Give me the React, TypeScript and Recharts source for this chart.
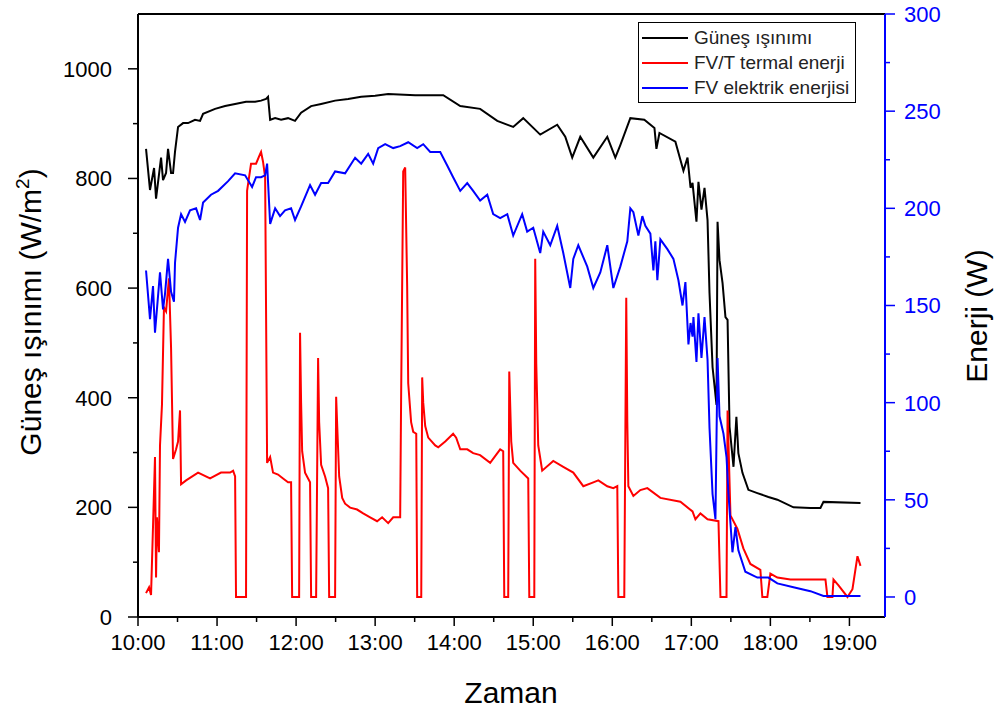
import React from 'react';
import { LineChart, Line, XAxis, YAxis, Legend, ReferenceLine } from 'recharts';

// time in minutes after midnight
const irradiance: [number, number][] = [
  [606.1, 854], [609.1, 779], [612.2, 819], [613.7, 763], [617.5, 838], [619.0, 797],
  [621.3, 810], [622.8, 854], [625.1, 810], [626.6, 810], [628.1, 849], [630.4, 894],
  [634.2, 901], [638.0, 901], [643.3, 907], [647.1, 905], [649.4, 918], [658.5, 927],
  [666.1, 932], [673.7, 936], [682.0, 940], [688.9, 940], [693.4, 942], [697.2, 945],
  [698.7, 949], [700.3, 907], [704.1, 910], [708.6, 907], [713.9, 910], [719.2, 905],
  [723.8, 920], [731.4, 932], [739.0, 936], [749.6, 942], [759.5, 945], [769.4, 949],
  [780.0, 951], [789.9, 954], [810.4, 952], [831.7, 952], [844.6, 932], [859.7, 927],
  [872.7, 905], [884.8, 894], [892.4, 910], [905.3, 880], [918.2, 898], [924.3, 876],
  [929.6, 838], [935.7, 876], [945.6, 838], [956.2, 876], [962.3, 838], [966.1, 861],
  [973.7, 910], [984.3, 907], [992.0, 892], [993.5, 854], [995.8, 883], [1007.9, 867],
  [1014.0, 814], [1017.1, 838], [1019.4, 783], [1020.9, 792], [1023.9, 721], [1025.4, 794],
  [1027.7, 743], [1030.0, 783], [1032.3, 724], [1033.8, 591], [1036.1, 456], [1039.1, 387],
  [1039.9, 721], [1041.4, 651], [1043.7, 609], [1045.9, 547], [1047.5, 542], [1049.0, 347],
  [1052.0, 274], [1054.2, 365], [1055.7, 299], [1058.8, 263], [1063.3, 232], [1070.1, 226],
  [1078.5, 219], [1085.3, 214], [1097.5, 200], [1110.4, 199], [1118.0, 199], [1120.3, 210],
  [1148.4, 208],
];

const thermal: [number, number][] = [
  [606.1, 2], [608.4, 5], [609.9, 1], [612.9, 72], [613.7, 10], [614.4, 41], [615.9, 23],
  [616.7, 78], [618.2, 99], [619.7, 149], [621.3, 147], [623.5, 164], [625.1, 128],
  [626.6, 71], [628.9, 76], [630.4, 80], [631.9, 96], [632.7, 58], [636.5, 60], [645.6, 64],
  [654.7, 61], [663.0, 64], [669.9, 64], [672.2, 65], [673.7, 62], [674.4, 0], [682.0, 0],
  [682.8, 209], [685.8, 223], [689.6, 223], [692.7, 228], [693.4, 229], [694.9, 224],
  [696.5, 216], [698.0, 69], [700.3, 72], [702.5, 64], [706.3, 63], [710.1, 61], [713.9, 59],
  [716.2, 59], [717.0, 0], [722.3, 0], [723.0, 136], [723.8, 100], [724.6, 75], [726.8, 64],
  [730.6, 59], [731.4, 0], [735.2, 0], [736.7, 123], [737.5, 90], [739.0, 68], [742.0, 62],
  [744.3, 56], [745.1, 0], [749.6, 0], [750.4, 103], [751.1, 90], [752.7, 62], [755.0, 51],
  [757.2, 48], [761.0, 46], [766.3, 45], [770.9, 43], [776.2, 41], [781.5, 39], [785.3, 41],
  [789.9, 38], [793.7, 41], [799.0, 41], [799.7, 101], [801.3, 219], [802.8, 221],
  [804.3, 160], [805.1, 110], [807.3, 90], [808.9, 85], [811.2, 84], [811.9, 0], [815.0, 0],
  [815.7, 113], [816.5, 100], [818.0, 88], [820.3, 82], [825.6, 78], [827.9, 77], [833.2, 80],
  [839.2, 84], [841.5, 82], [844.6, 76], [849.9, 76], [854.4, 74], [859.7, 73], [867.3, 69],
  [874.9, 76], [877.2, 75], [878.0, 0], [881.0, 0], [881.8, 116], [883.3, 80], [884.8, 69],
  [890.1, 65], [896.2, 61], [897.0, 0], [900.8, 0], [901.5, 174], [902.3, 120], [903.8, 78],
  [906.8, 65], [915.2, 70], [922.8, 67], [930.4, 64], [938.0, 57], [945.6, 59], [949.4, 60],
  [956.2, 57], [960.8, 56], [963.8, 57], [964.6, 0], [969.1, 0], [970.6, 154], [971.4, 90],
  [972.2, 57], [976.0, 52], [981.3, 55], [986.6, 56], [996.5, 51], [1011.7, 49], [1020.9, 44],
  [1023.1, 40], [1026.9, 43], [1032.3, 40], [1040.6, 39], [1042.1, 0], [1046.7, 0],
  [1047.5, 96], [1049.7, 42], [1055.0, 35], [1059.5, 25], [1064.8, 17], [1072.4, 14],
  [1073.9, 0], [1077.7, 0], [1080.0, 12], [1085.3, 10], [1095.2, 9], [1110.4, 9], [1121.8, 9],
  [1123.3, 0], [1127.1, 0], [1127.9, 9], [1131.7, 6], [1138.5, 0], [1142.3, 4], [1146.1, 21],
  [1148.4, 16],
];

const electric: [number, number][] = [
  [606.1, 168], [609.1, 143], [611.4, 160], [612.9, 136], [616.7, 167], [619.0, 148],
  [620.5, 156], [622.8, 174], [625.1, 157], [627.3, 152], [628.1, 172], [630.4, 190],
  [632.7, 197], [635.7, 193], [639.5, 199], [644.1, 200], [647.1, 194], [649.4, 203],
  [655.4, 207], [660.8, 209], [668.4, 214], [673.7, 218], [681.3, 217], [686.6, 211],
  [689.6, 216], [693.4, 216], [696.5, 217], [698.0, 223], [700.3, 192], [704.1, 200],
  [707.8, 196], [711.6, 199], [716.2, 200], [719.2, 194], [723.8, 201], [730.6, 212],
  [734.4, 207], [739.0, 213], [744.3, 213], [749.6, 219], [757.2, 218], [764.8, 226],
  [769.4, 223], [774.7, 228], [778.5, 223], [782.3, 231], [787.6, 233], [793.7, 231],
  [799.0, 232], [805.1, 234], [811.9, 231], [816.5, 233], [821.8, 229], [829.4, 229],
  [834.7, 222], [839.2, 216], [844.6, 209], [849.9, 213], [854.4, 209], [859.7, 204],
  [865.1, 207], [869.6, 197], [874.9, 195], [880.3, 197], [884.8, 186], [891.6, 197],
  [895.4, 188], [900.0, 190], [905.3, 177], [907.6, 188], [912.9, 181], [918.2, 191],
  [922.8, 177], [928.1, 159], [930.4, 174], [934.2, 181], [941.0, 170], [945.6, 159],
  [950.9, 167], [956.2, 181], [960.8, 159], [966.1, 170], [971.4, 183], [973.7, 200],
  [976.0, 198], [979.8, 186], [982.8, 196], [985.1, 191], [988.9, 187], [991.2, 168],
  [992.7, 183], [994.2, 163], [996.5, 184], [1001.8, 179], [1006.4, 174], [1010.2, 163],
  [1013.3, 150], [1015.5, 162], [1017.8, 130], [1019.4, 141], [1020.9, 134], [1021.6, 144],
  [1023.9, 121], [1025.4, 146], [1027.7, 123], [1030.0, 144], [1032.3, 122], [1033.8, 87],
  [1036.1, 53], [1038.3, 40], [1039.9, 123], [1041.4, 93], [1044.4, 84], [1046.7, 72],
  [1048.2, 53], [1051.2, 23], [1053.5, 36], [1055.7, 24], [1061.0, 13], [1070.1, 10],
  [1078.5, 10], [1085.3, 7], [1097.5, 5], [1110.4, 3], [1120.3, 0.5], [1148.4, 0.5],
];

const seriesNames = ['Güneş ışınımı', 'FV/T termal enerji', 'FV elektrik enerjisi'];

const timeTicks = [600, 630, 660, 690, 720, 750, 780, 810, 840, 870, 900, 930, 960, 990, 1020, 1050, 1080, 1110, 1140];
const irrTicks = [0, 100, 200, 300, 400, 500, 600, 700, 800, 900, 1000];
const energyTicks = [0, 25, 50, 75, 100, 125, 150, 175, 200, 225, 250, 275, 300];

const FONT = '"Liberation Sans", Arial, sans-serif';

const toRows = (pts: [number, number][]) => pts.map(([t, v]) => ({ t, v }));

const fmtTime = (m: number) => `${Math.floor(m / 60)}:${String(m % 60).padStart(2, '0')}`;

const TimeTick = (props: any) => {
  const { x, y, payload } = props;
  const major = payload.value % 60 === 0;
  return (
    <g>
      <line x1={x} x2={x} y1={y} y2={y + (major ? 9 : 5)} stroke="#000" strokeWidth={1.5} />
      {major && (
        <text x={x} y={y + 33} textAnchor="middle" fontFamily={FONT} fontSize={22} fill="#000">
          {fmtTime(payload.value)}
        </text>
      )}
    </g>
  );
};

const LeftTick = (props: any) => {
  const { x, y, payload } = props;
  const major = payload.value % 200 === 0;
  return (
    <g>
      <line x1={x} x2={x - (major ? 10 : 5)} y1={y} y2={y} stroke="#000" strokeWidth={1.5} />
      {major && (
        <text x={x - 26} y={y} dy="0.36em" textAnchor="end" fontFamily={FONT} fontSize={22} fill="#000">
          {payload.value}
        </text>
      )}
    </g>
  );
};

const RightTick = (props: any) => {
  const { x, y, payload } = props;
  const major = payload.value % 50 === 0;
  return (
    <g>
      <line x1={x} x2={x + (major ? 10 : 5)} y1={y} y2={y} stroke="#0000ff" strokeWidth={1.5} />
      {major && (
        <text x={x + 19} y={y} dy="0.36em" textAnchor="start" fontFamily={FONT} fontSize={22} fill="#0000ff">
          {payload.value}
        </text>
      )}
    </g>
  );
};

const XTitle = () => (
  <text x={511} y={703} textAnchor="middle" fontFamily={FONT} fontSize={30} fill="#000">
    Zaman
  </text>
);

const LeftTitle = () => (
  <text x={41} y={312} transform="rotate(-90 41 312)" textAnchor="middle" fontFamily={FONT} fontSize={30} fill="#000">
    Güneş ışınımı (W/m<tspan fontSize={19} dy={-12}>2</tspan><tspan dy={12}>)</tspan>
  </text>
);

const RightTitle = () => (
  <text x={987} y={316} transform="rotate(-90 987 316)" textAnchor="middle" fontFamily={FONT} fontSize={30} fill="#000">
    Enerji (W)
  </text>
);

const LegendBox = (props: any) => {
  const items = [...(props.payload || [])].sort(
    (a: any, b: any) => seriesNames.indexOf(a.value) - seriesNames.indexOf(b.value)
  );
  return (
    <div
      style={{
        border: '1px solid #000',
        background: '#fff',
        padding: '2px 6px 2px 3px',
        fontFamily: FONT,
        fontSize: 19,
        lineHeight: '25px',
        color: '#222',
      }}
    >
      {items.map((it: any) => (
        <div key={it.value} style={{ display: 'flex', alignItems: 'center', whiteSpace: 'nowrap' }}>
          <svg width={46} height={10} style={{ marginRight: 6 }}>
            <line x1={0} x2={46} y1={5} y2={5} stroke={it.color} strokeWidth={2} />
          </svg>
          <span>{it.value}</span>
        </div>
      ))}
    </div>
  );
};

export default function App() {
  return (
    <div style={{ position: 'absolute', left: 0, top: 0, width: 999, height: 717, background: '#fff' }}>
      <LineChart width={999} height={717} margin={{ top: 14, right: 0, bottom: 0, left: 0 }}>
        <XAxis
          dataKey="t"
          type="number"
          domain={[600, 1167]}
          ticks={timeTicks}
          interval={0}
          allowDataOverflow
          height={100}
          tickSize={0}
          tickMargin={0}
          tick={<TimeTick />}
          axisLine={{ stroke: '#000', strokeWidth: 2 }}
          label={<XTitle />}
        />
        <YAxis
          yAxisId="left"
          type="number"
          domain={[0, 1100]}
          ticks={irrTicks}
          interval={0}
          allowDataOverflow
          width={138}
          tickSize={0}
          tickMargin={0}
          tick={<LeftTick />}
          axisLine={{ stroke: '#000', strokeWidth: 2 }}
          label={<LeftTitle />}
        />
        <YAxis
          yAxisId="right"
          orientation="right"
          type="number"
          domain={[-10.3, 300]}
          ticks={energyTicks}
          interval={0}
          allowDataOverflow
          width={114}
          tickSize={0}
          tickMargin={0}
          tick={<RightTick />}
          axisLine={{ stroke: '#0000ff', strokeWidth: 2 }}
          label={<RightTitle />}
        />
        <ReferenceLine yAxisId="left" y={1100} stroke="#000" strokeWidth={2} />
        <Legend
          layout="vertical"
          align="center"
          verticalAlign="middle"
          content={<LegendBox />}
          wrapperStyle={{ left: 638, top: 22, width: 'auto', height: 'auto' }}
        />
        <Line
          data={toRows(irradiance)}
          dataKey="v"
          name={seriesNames[0]}
          yAxisId="left"
          type="linear"
          stroke="#000"
          strokeWidth={2}
          dot={false}
          activeDot={false}
          isAnimationActive={false}
        />
        <Line
          data={toRows(thermal)}
          dataKey="v"
          name={seriesNames[1]}
          yAxisId="right"
          type="linear"
          stroke="#ff0000"
          strokeWidth={2}
          dot={false}
          activeDot={false}
          isAnimationActive={false}
        />
        <Line
          data={toRows(electric)}
          dataKey="v"
          name={seriesNames[2]}
          yAxisId="right"
          type="linear"
          stroke="#0000ff"
          strokeWidth={2}
          dot={false}
          activeDot={false}
          isAnimationActive={false}
        />
      </LineChart>
    </div>
  );
}
